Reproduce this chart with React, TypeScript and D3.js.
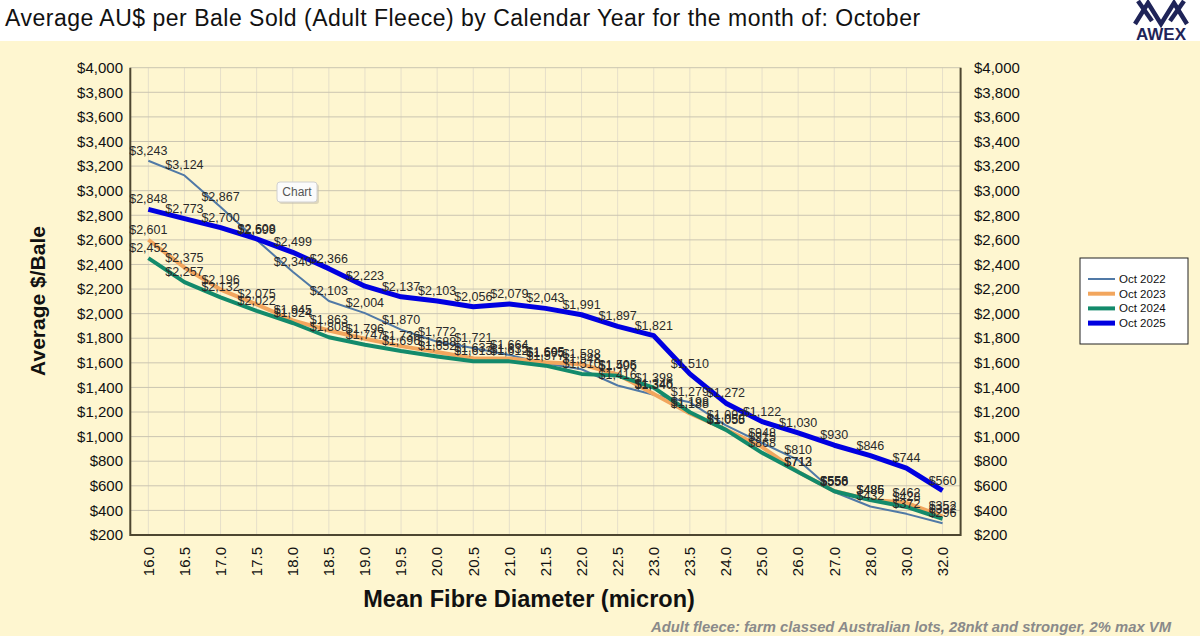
import * as d3 from 'd3';

const categories = [
  '16.0', '16.5', '17.0', '17.5', '18.0', '18.5', '19.0', '19.5', '20.0', '20.5', '21.0', '21.5',
  '22.0', '22.5', '23.0', '23.5', '24.0', '25.0', '26.0', '27.0', '28.0', '30.0', '32.0',
];

const oct2022 = [3243, 3124, 2867, 2599, 2340, 2103, 2004, 1870, 1772, 1721, 1664, 1595, 1548, 1416, 1340, 1279, 1092, 948, 810, 550, 432, 372, 296];
const oct2023 = [2601, 2375, 2196, 2075, 1945, 1863, 1796, 1736, 1688, 1637, 1635, 1605, 1588, 1505, 1346, 1188, 1058, 915, 713, 558, 486, 462, 352];
const oct2024 = [2452, 2257, 2132, 2022, 1924, 1808, 1747, 1696, 1652, 1613, 1612, 1577, 1510, 1496, 1398, 1198, 1055, 868, 712, 556, 485, 428, 332];
const oct2025 = [2848, 2773, 2700, 2608, 2499, 2366, 2223, 2137, 2103, 2056, 2079, 2043, 1991, 1897, 1821, 1510, 1272, 1122, 1030, 930, 846, 744, 560];

const seriesNames = ['Oct 2022', 'Oct 2023', 'Oct 2024', 'Oct 2025'];
const yTicks = d3.range(200, 4001, 200);

const series = [
  { name: seriesNames[0], values: oct2022, color: '#5079a6', width: 2 },
  { name: seriesNames[1], values: oct2023, color: '#f2a65e', width: 4 },
  { name: seriesNames[2], values: oct2024, color: '#138a6b', width: 4 },
  { name: seriesNames[3], values: oct2025, color: '#0000e0', width: 5 },
];

const font = '"Liberation Sans", Arial, sans-serif';
const left = 130.3;
const right = 960.6;
const top = 67.7;
const bottom = 535;

export default function App() {
  const x = d3.scaleBand<string>().domain(categories).range([left, right]);
  const cx = (c: string) => (x(c) ?? 0) + x.bandwidth() / 2;
  const y = d3.scaleLinear().domain([200, 4000]).range([bottom, top]);
  const money = d3.format('$,');

  const line = d3
    .line<number>()
    .x((_, i) => cx(categories[i]))
    .y((d) => y(d));

  return (
    <svg width={1200} height={636} style={{ position: 'absolute', left: 0, top: 0, fontFamily: font }}>
      <rect x={0} y={0} width={1200} height={636} fill="#fef6d0" />
      <rect x={0} y={0} width={1200} height={41} fill="#ffffff" />

      {/* title */}
      <text x={5} y={26} fontSize={23} fill="#111" letterSpacing={0.5}>
        Average AU$ per Bale Sold (Adult Fleece) by Calendar Year for the month of: October
      </text>

      {/* AWEX logo */}
      <g fill="none" stroke="#1f2458" strokeWidth={4.5} strokeLinejoin="miter">
        <path d="M1135,24 L1148,3 L1161,24 L1174,3 L1187,24" />
        <path d="M1138,1 L1152,21" />
        <path d="M1184,1 L1170,21" />
      </g>
      <text x={1161} y={40} textAnchor="middle" fontSize={17} fontWeight="bold" fill="#1f2458">
        AWEX
      </text>

      {/* grid */}
      {categories.map((c) => (
        <line key={c} x1={cx(c)} x2={cx(c)} y1={top} y2={bottom} stroke="#e6dfc9" strokeWidth={1} />
      ))}
      {yTicks.map((t) => (
        <line key={t} x1={left} x2={right} y1={y(t)} y2={y(t)} stroke="#cbc5b1" strokeWidth={1} />
      ))}

      {/* frame */}
      <path
        d={`M${left},${top} L${left},${bottom} L${right},${bottom} L${right},${top}`}
        fill="none"
        stroke="#4d4630"
        strokeWidth={2}
      />

      {/* y tick labels */}
      {yTicks.map((t) => (
        <g key={t} fontSize={15} fill="#111">
          <text x={123} y={y(t)} dy="0.35em" textAnchor="end">
            {money(t)}
          </text>
          <text x={974} y={y(t)} dy="0.35em" textAnchor="start">
            {money(t)}
          </text>
        </g>
      ))}

      {/* x tick labels */}
      {categories.map((c) => (
        <text
          key={c}
          transform={`translate(${cx(c)},547) rotate(-90)`}
          textAnchor="end"
          dy="0.35em"
          fontSize={15}
          fill="#111"
        >
          {c}
        </text>
      ))}

      {/* axis titles */}
      <text
        transform="translate(45,301) rotate(-90)"
        textAnchor="middle"
        fontSize={21}
        fontWeight="bold"
        fill="#111"
      >
        Average $/Bale
      </text>
      <text x={529} y={607} textAnchor="middle" fontSize={23.5} fontWeight="bold" fill="#111">
        Mean Fibre Diameter (micron)
      </text>

      {/* lines */}
      {series.map((s) => (
        <path
          key={s.name}
          d={line(s.values) ?? ''}
          fill="none"
          stroke={s.color}
          strokeWidth={s.width}
          strokeLinejoin="round"
        />
      ))}

      {/* data labels */}
      {series.map((s) => (
        <g key={s.name} fontSize={12.5} fill="#2a2a2a" textAnchor="middle">
          {s.values.map((v, i) => (
            <text key={i} x={cx(categories[i])} y={y(v) - 6}>
              {money(v)}
            </text>
          ))}
        </g>
      ))}

      {/* "Chart" tooltip */}
      <rect x={279} y={184} width={40} height={20} rx={3} fill="#bdb8a8" opacity={0.5} />
      <rect x={277} y={182} width={40} height={20} rx={3} fill="#fbfbfb" stroke="#d0d0d0" />
      <text x={297} y={196} textAnchor="middle" fontSize={12} fill="#555">
        Chart
      </text>

      {/* legend */}
      <rect x={1080} y={258} width={108} height={86} fill="#ffffff" stroke="#222" strokeWidth={1} />
      {series.map((s, i) => (
        <g key={s.name}>
          <line
            x1={1088}
            x2={1115}
            y1={279 + i * 14.7}
            y2={279 + i * 14.7}
            stroke={s.color}
            strokeWidth={s.width}
          />
          <text x={1119} y={279 + i * 14.7} dy="0.35em" fontSize={11.5} fill="#111">
            {s.name}
          </text>
        </g>
      ))}

      {/* footnote */}
      <text
        x={1171}
        y={632}
        textAnchor="end"
        fontSize={14.8}
        fontWeight="bold"
        fontStyle="italic"
        fill="#8a8a8a"
      >
        Adult fleece: farm classed Australian lots, 28nkt and stronger, 2% max VM
      </text>
    </svg>
  );
}
